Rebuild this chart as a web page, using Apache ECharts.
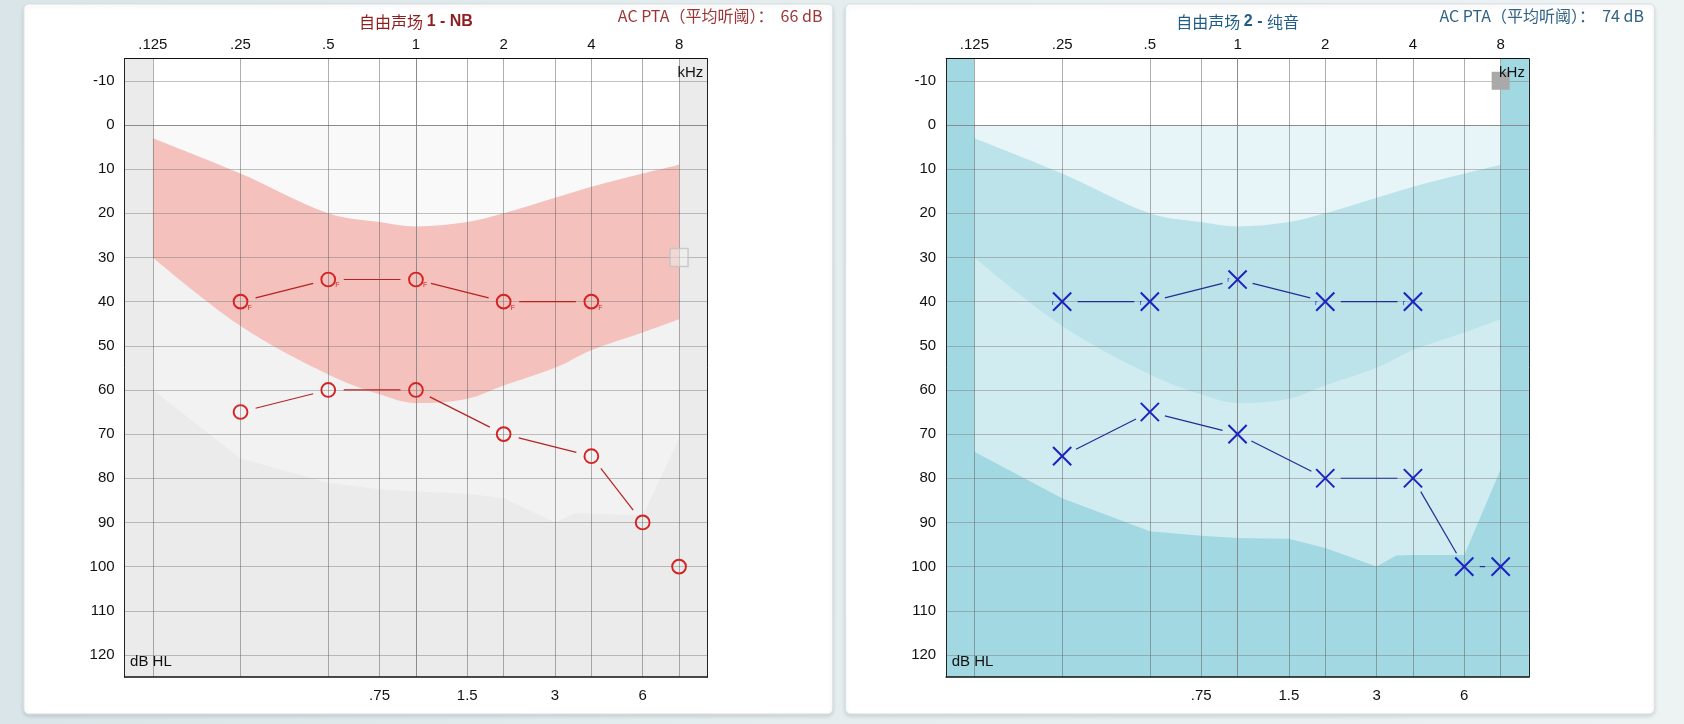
<!DOCTYPE html>
<html>
<head>
<meta charset="utf-8">
<script src="https://cdn.jsdelivr.net/npm/echarts@6.0.0/dist/echarts.min.js"></script>
<style>
  html, body { margin: 0; padding: 0; }
  body { background: linear-gradient(90deg, #d9e5e8 0%, #e5edef 50%, #edf2f3 100%); }
  #chart { width: 1684px; height: 724px; }
</style>
</head>
<body>
<div id="chart"></div>
<script>
// 频率刻度（kHz）
const gridFreqs = [0.125, 0.25, 0.5, 0.75, 1, 1.5, 2, 3, 4, 6, 8];
const topFreqs = [0.125, 0.25, 0.5, 1, 2, 4, 8];
const topLabels = ['.125', '.25', '.5', '1', '2', '4', '8'];
const bottomFreqs = [0.75, 1.5, 3, 6];
const bottomLabels = ['.75', '1.5', '3', '6'];
const dbTicks = [-10, 0, 10, 20, 30, 40, 50, 60, 70, 80, 90, 100, 110, 120];

// 言语香蕉区
const bananaFreqs = [0.125, 0.25, 0.5, 0.75, 1, 1.5, 2, 3, 4, 6, 8];
const bananaTop = [3, 11, 20, 22, 23, 22, 20, 16.5, 14, 11, 9];
const bananaBottom = [30, 45.5, 56.5, 61, 63, 62, 59, 55, 51, 47, 44];

// 输出上限区
const limitFreqs = [0.125, 0.25, 0.5, 0.75, 1, 1.5, 2, 3, 3.5, 4, 6, 8];
const limitNB = [60, 75.5, 81, 82.5, 83, 83.5, 84.5, 90, 88, 88, 88.5, 71];
const limitPT = [74, 84.5, 92, 93, 93.5, 93.7, 95.8, 100, 97.5, 97.4, 97.4, 78];

// 测试结果
const testFreqs = [0.25, 0.5, 1, 2, 4, 6, 8];
const nbUpperFreqs = [0.25, 0.5, 1, 2, 4];
const nbUpper = [40, 35, 35, 40, 40];
const nbUpperJoin = [1, 1, 1, 1];
const nbLower = [65, 60, 60, 70, 75, 90, 100];
const nbLowerJoin = [1, 1, 1, 1, 1, 0];
const ptUpperFreqs = [0.25, 0.5, 1, 2, 4];
const ptUpper = [40, 40, 35, 40, 40];
const ptUpperJoin = [1, 1, 1, 1];
const ptLower = [75, 65, 70, 80, 80, 100, 100];
const ptLowerJoin = [1, 1, 1, 1, 1, 1];
const nbSquare = [[8, 30]];
const ptSquare = [[8, -10]];

const ptaNB = 66;
const ptaPT = 74;

const LG = (f) => Math.log2(f);
const X_MIN = LG(0.1);
const X_MAX = LG(10);
const GAP = 15.5;

const PLOT_TOP = 58.7;
const PLOT_W = 582.7;
const PLOT_H = 618.3;
const PLOT_LEFT = [124.6, 946.2];
const FONT = "'Liberation Sans', Arial, sans-serif";
const CJK = "'Noto Sans CJK SC', 'Liberation Sans', sans-serif";

const theme = [
  { plotBg: '#ebebeb', limit: '#f2f2f2', banana: '#f4c1bd', above: '#f9f9f9',
    mark: '#d42222', line: '#b42424', title: '#8e1f1f', pta: '#9c3636' },
  { plotBg: '#a2d8e2', limit: '#d1ecf1', banana: '#bde3ea', above: '#e7f5f8',
    mark: '#1a22c0', line: '#1f2e8f', title: '#1f5d87', pta: '#2f6284' }
];

function labelFor(v, freqs, labels) {
  for (let i = 0; i < freqs.length; i++) {
    if (Math.abs(LG(freqs[i]) - v) < 1e-6) return labels[i];
  }
  return '';
}

function zip(freqs, vals) {
  return freqs.map((f, i) => [LG(f), vals[i]]);
}

function segments(freqs, vals, joins) {
  const out = [];
  for (let i = 0; i < freqs.length - 1; i++) {
    if (joins[i]) out.push([LG(freqs[i]), vals[i], LG(freqs[i + 1]), vals[i + 1]]);
  }
  return out;
}

function segmentRender(color) {
  return function (params, api) {
    const p1 = api.coord([api.value(0), api.value(1)]);
    const p2 = api.coord([api.value(2), api.value(3)]);
    const dx = p2[0] - p1[0];
    const dy = p2[1] - p1[1];
    const len = Math.sqrt(dx * dx + dy * dy);
    if (len <= 2 * GAP) return null;
    const ux = dx / len, uy = dy / len;
    return {
      type: 'line',
      shape: { x1: p1[0] + ux * GAP, y1: p1[1] + uy * GAP, x2: p2[0] - ux * GAP, y2: p2[1] - uy * GAP },
      style: { stroke: color, lineWidth: 1.2 }
    };
  };
}

function circleRender(color, mark) {
  return function (params, api) {
    const p = api.coord([api.value(0), api.value(1)]);
    const children = [{
      type: 'circle',
      shape: { cx: p[0], cy: p[1], r: 6.9 },
      style: { fill: 'none', stroke: color, lineWidth: 1.9 }
    }];
    if (mark) {
      children.push({
        type: 'text', x: p[0] + 7, y: p[1] + 6,
        style: { text: mark, fill: color, font: '7px ' + FONT, align: 'left', verticalAlign: 'middle' }
      });
    }
    return { type: 'group', children: children };
  };
}

function crossRender(color, mark) {
  return function (params, api) {
    const p = api.coord([api.value(0), api.value(1)]);
    const h = 9.1;
    const st = { stroke: color, lineWidth: 2 };
    const children = [
      { type: 'line', shape: { x1: p[0] - h, y1: p[1] - h, x2: p[0] + h, y2: p[1] + h }, style: st },
      { type: 'line', shape: { x1: p[0] - h, y1: p[1] + h, x2: p[0] + h, y2: p[1] - h }, style: st }
    ];
    if (mark) {
      children.push({
        type: 'text', x: p[0] - 8, y: p[1] + 1,
        style: { text: mark, fill: color, font: '7px ' + FONT, align: 'right', verticalAlign: 'middle' }
      });
    }
    return { type: 'group', children: children };
  };
}

const grids = [];
const xAxes = [];
const yAxes = [];
const series = [];
const graphics = [];

const xLineColors = gridFreqs.map((f) => (f === 1 ? '#8c8c8c' : 'rgba(95,95,95,0.5)'));
const yLineColors = dbTicks.map((v) => (v === 0 ? '#8c8c8c' : 'rgba(120,120,120,0.45)'));

[0, 1].forEach((p) => {
  const t = theme[p];
  grids.push({
    left: PLOT_LEFT[p], top: PLOT_TOP, width: PLOT_W, height: PLOT_H,
    show: true, backgroundColor: t.plotBg, borderWidth: 0,
    containLabel: false, outerBoundsMode: 'none'
  });
  const base = { type: 'value', gridIndex: p, min: X_MIN, max: X_MAX, z: 3 };
  xAxes.push(Object.assign({}, base, {
    position: 'top',
    axisLine: { show: true, onZero: false, lineStyle: { color: '#111', width: 1 } },
    axisTick: { show: false, customValues: gridFreqs.map(LG) },
    splitLine: { show: true, lineStyle: { color: xLineColors, width: 1 } },
    axisLabel: {
      customValues: topFreqs.map(LG), margin: 6, fontSize: 15, color: '#111', fontFamily: FONT,
      formatter: (v) => labelFor(v, topFreqs, topLabels)
    }
  }));
  xAxes.push(Object.assign({}, base, {
    position: 'bottom',
    axisLine: { show: true, onZero: false, lineStyle: { color: '#111', width: 1.5 } },
    axisTick: { show: false, customValues: bottomFreqs.map(LG) },
    splitLine: { show: false },
    axisLabel: {
      customValues: bottomFreqs.map(LG), margin: 11, fontSize: 15, color: '#111', fontFamily: FONT,
      formatter: (v) => labelFor(v, bottomFreqs, bottomLabels)
    }
  }));
  const ybase = { type: 'value', gridIndex: p, min: -15, max: 125, inverse: true, z: 3 };
  yAxes.push(Object.assign({}, ybase, {
    position: 'left',
    axisLine: { show: true, onZero: false, lineStyle: { color: '#222', width: 1 } },
    axisTick: { show: false, customValues: dbTicks },
    splitLine: { show: true, lineStyle: { color: yLineColors, width: 1 } },
    axisLabel: { customValues: dbTicks, margin: 10, fontSize: 15, color: '#111', fontFamily: FONT }
  }));
  yAxes.push(Object.assign({}, ybase, {
    position: 'right',
    axisLine: { show: true, onZero: false, lineStyle: { color: '#222', width: 1 } },
    axisTick: { show: false },
    splitLine: { show: false },
    axisLabel: { show: false }
  }));

  const xi = p * 2, yi = p * 2;
  const area = (data, color, smooth) => ({
    type: 'line', xAxisIndex: xi, yAxisIndex: yi, data: data, smooth: smooth || false,
    showSymbol: false, symbol: 'none', silent: true, z: 1,
    lineStyle: { width: 0, opacity: 0 },
    areaStyle: { color: color, opacity: 1, origin: 'start' }
  });
  series.push(area(zip(limitFreqs, p === 0 ? limitNB : limitPT), t.limit));
  series.push(area(zip(bananaFreqs, bananaBottom), t.banana, 0.35));
  series.push(area(zip(bananaFreqs, bananaTop), t.above, 0.35));
  series.push(area([[LG(0.125), 0], [LG(8), 0]], '#ffffff'));

  series.push({
    type: 'scatter', xAxisIndex: xi, yAxisIndex: yi, z: 6, silent: true,
    data: (p === 0 ? nbSquare : ptSquare).map((d) => [LG(d[0]), d[1]]),
    symbol: 'rect', symbolSize: 18,
    itemStyle: p === 0
      ? { color: 'rgba(240,240,240,0.6)', borderColor: '#c2c2c2', borderWidth: 1.5 }
      : { color: '#a9a9a9', opacity: 1 }
  });

  const upperF = p === 0 ? nbUpperFreqs : ptUpperFreqs;
  const upper = p === 0 ? nbUpper : ptUpper;
  const upperJoin = p === 0 ? nbUpperJoin : ptUpperJoin;
  const lower = p === 0 ? nbLower : ptLower;
  const lowerJoin = p === 0 ? nbLowerJoin : ptLowerJoin;
  const segData = segments(upperF, upper, upperJoin).concat(segments(testFreqs, lower, lowerJoin));
  series.push({
    type: 'custom', xAxisIndex: xi, yAxisIndex: yi, z: 8, silent: true,
    data: segData, encode: { x: [0, 2], y: [1, 3] },
    renderItem: segmentRender(t.line)
  });
  const markRender = p === 0 ? circleRender : crossRender;
  series.push({
    type: 'custom', xAxisIndex: xi, yAxisIndex: yi, z: 9, silent: true,
    data: zip(upperF, upper), encode: { x: 0, y: 1 },
    renderItem: markRender(t.mark, p === 0 ? 'F' : 'r')
  });
  series.push({
    type: 'custom', xAxisIndex: xi, yAxisIndex: yi, z: 9, silent: true,
    data: zip(testFreqs, lower), encode: { x: 0, y: 1 },
    renderItem: markRender(t.mark, null)
  });

  // 卡片与文字
  const left = PLOT_LEFT[p];
  const oneK = left + (LG(1) - X_MIN) / (X_MAX - X_MIN) * PLOT_W;
  graphics.push({
    type: 'rect', z: -10,
    shape: { x: left - 100.8, y: 4, width: 809, height: 710, r: 5 },
    style: { fill: '#ffffff', stroke: '#d8dfe1', lineWidth: 1,
      shadowColor: 'rgba(0,0,0,0.13)', shadowBlur: 4, shadowOffsetY: 2 }
  });
  graphics.push({
    type: 'text', z: 20, x: oneK, y: 21.5,
    style: {
      text: p === 0 ? '{a|自由声场 }{b|1 - NB}' : '{a|自由声场 }{b|2 - }{a|纯音}',
      align: 'center', verticalAlign: 'middle',
      rich: {
        a: { fontSize: 16, fontFamily: CJK, fill: t.title },
        b: { fontSize: 16, fontFamily: FONT, fontWeight: 'bold', fill: t.title }
      }
    }
  });
  graphics.push({
    type: 'text', z: 20, x: left + 697.8, y: 16,
    style: {
      text: 'AC PTA（平均听阈）：  ' + (p === 0 ? ptaNB : ptaPT) + ' dB',
      align: 'right', verticalAlign: 'middle', fill: t.pta,
      font: '16px ' + CJK
    }
  });
  graphics.push({
    type: 'text', z: 20, x: left + PLOT_W - 4, y: 73,
    style: { text: 'kHz', align: 'right', verticalAlign: 'middle', fill: '#111', font: '15px ' + FONT }
  });
  graphics.push({
    type: 'text', z: 20, x: left + 5.5, y: 661.5,
    style: { text: 'dB HL', align: 'left', verticalAlign: 'middle', fill: '#111', font: '15px ' + FONT }
  });
});

const chart = echarts.init(document.getElementById('chart'));
chart.setOption({
  animation: false,
  backgroundColor: 'transparent',
  grid: grids,
  xAxis: xAxes,
  yAxis: yAxes,
  series: series,
  graphic: { elements: graphics }
});
</script>
</body>
</html>
